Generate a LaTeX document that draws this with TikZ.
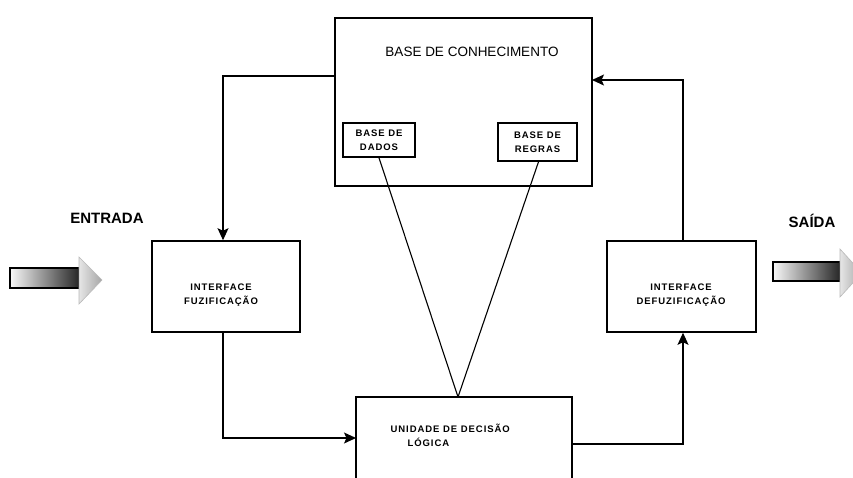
\documentclass[tikz,border=0pt]{standalone}
\usepackage{fontspec}
\setmainfont{Liberation Sans}
\newfontfamily\boxfont{Liberation Sans}[LetterSpace=10]
\usepackage{tikz}
\usetikzlibrary{calc,positioning,shapes,arrows.meta}

\tikzset{
  blk/.style={draw,line width=1.6pt,inner sep=0pt},
  lbl/.style={font=\boxfont\bfseries\fontsize{9.5}{14}\selectfont,align=center,inner sep=0pt},
  flow/.style={->},
}

\begin{document}
\begin{tikzpicture}[x=1pt,y=-1pt,line width=1.1pt,line join=miter,>={Stealth[length=12pt,width=11pt,inset=2.5pt]}]
\clip (0,0) rectangle (853,477);
\useasboundingbox (0,0) rectangle (853,477);
%%
\node (base) at (463.5,102) [blk,minimum width=257pt,minimum height=168pt] {};
  \node (kbtitle) at (472,52) [font=\fontsize{13.5}{16}\selectfont] {BASE DE CONHECIMENTO};
  \node (dados) at (379,140) [blk,lbl,minimum width=72pt,minimum height=34pt] {BASE DE\\DADOS};
  \node (regras) at (537.5,142) [blk,lbl,minimum width=79pt,minimum height=38pt] {BASE DE\\REGRAS};
  \node (fuz) at (226,286.5) [blk,minimum width=148pt,minimum height=91pt] {};
  \node (fuztxt) at (221,295) [lbl] {INTERFACE\\FUZIFICAÇÃO};
  \node (defuz) at (681.5,286.5) [blk,minimum width=149pt,minimum height=91pt] {};
  \node (defuztxt) at (681,295) [lbl] {INTERFACE\\DEFUZIFICAÇÃO};
  \node (unid) at (464,447) [blk,minimum width=216pt,minimum height=100pt] {};
  \node (unidtxt) at (390,435) [lbl,anchor=west,align=left] {UNIDADE DE DECISÃO\\\hspace*{17pt}LÓGICA};
  \node (entrada) at (107,218) [font=\bfseries\fontsize{15}{18}\selectfont] {ENTRADA};
  \node (saida) at (812,221) [font=\bfseries\fontsize{15}{18}\selectfont] {SAÍDA};
%
  \coordinate (kbout) at (335,76);
  \coordinate (kbin) at (592,80);
  \coordinate (udin) at (356,438);
  \coordinate (udout) at (572,444);
  \coordinate (apex) at (458,397);
  \draw [flow] (kbout) -| ([xshift=-3pt]fuz.north);
  \draw [flow] ([xshift=-3pt]fuz.south) |- (udin);
  \draw [flow] (udout) -| ([xshift=1.5pt]defuz.south);
  \draw [flow] ([xshift=1.5pt]defuz.north) |- (kbin);
  \draw (dados.south) -- (apex);
  \draw ([xshift=1pt]regras.south) -- (apex);
%
  \draw [line width=1.2pt,left color=gray!5,right color=black!85] (10,268) rectangle (79,288);
  \draw [line width=0.6pt,draw=gray!55,left color=gray!20,right color=gray!70] (79,257) -- (102,280) -- (79,304) -- cycle;
  \draw [line width=1.2pt,left color=gray!5,right color=black!85] (773,262) rectangle (840,281);
  \draw [line width=0.6pt,draw=gray!55,left color=gray!20,right color=gray!70] (840,249) -- (862,273) -- (840,297) -- cycle;
%
\end{tikzpicture}
\end{document}
